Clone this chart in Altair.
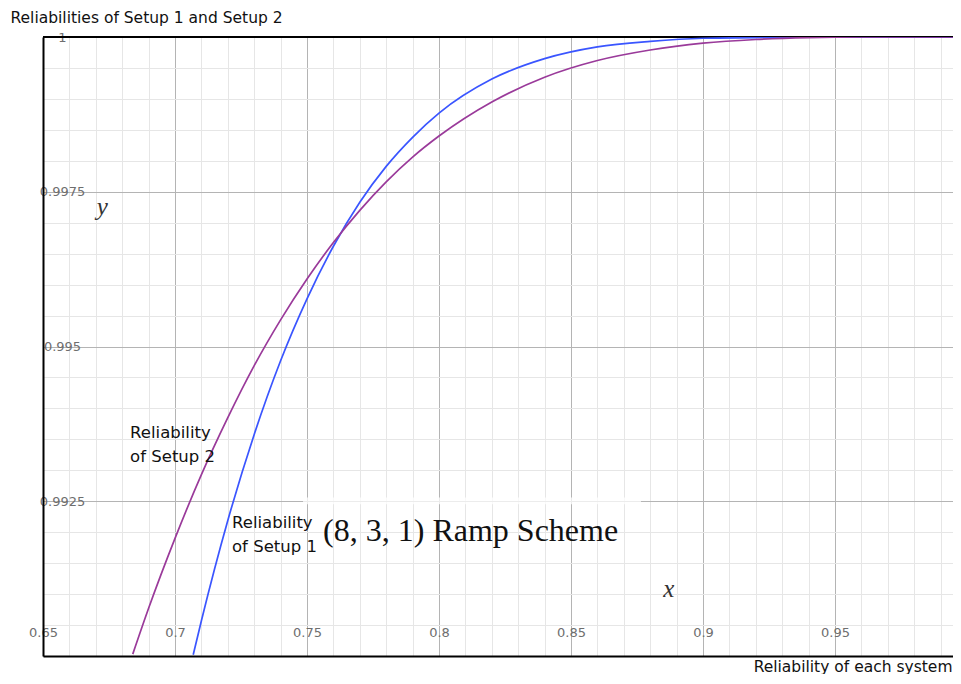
import altair as alt
import pandas as pd

# ---- data ----
setup1_x = [0.7069, 0.7100, 0.7200, 0.7300, 0.7400, 0.7500, 0.7600, 0.7700, 0.7800,
            0.7900, 0.8000, 0.8200, 0.8400, 0.8600, 0.8800, 0.9000, 0.9200, 0.9400,
            0.9600, 0.9800, 0.9947]
setup1_y = [0.99002, 0.99057, 0.99219, 0.99358, 0.99477, 0.99577, 0.99662, 0.99733, 0.99791,
            0.99838, 0.99877, 0.99932, 0.99965, 0.99984, 0.99993, 0.99998, 0.99999, 1.00000,
            1.00000, 1.00000, 1.00000]

setup2_x = [0.6840, 0.6900, 0.7000, 0.7100, 0.7200, 0.7300, 0.7400, 0.7500, 0.7600,
            0.7700, 0.7800, 0.7900, 0.8000, 0.8200, 0.8400, 0.8600, 0.8800, 0.9000,
            0.9200, 0.9400, 0.9600, 0.9800, 0.9947]
setup2_y = [0.99003, 0.99077, 0.99190, 0.99293, 0.99385, 0.99469, 0.99543, 0.99609, 0.99668,
            0.99720, 0.99766, 0.99806, 0.99840, 0.99895, 0.99935, 0.99962, 0.99979, 0.99990,
            0.99996, 0.99999, 1.00000, 1.00000, 1.00000]

series_names = ["Reliability of Setup 1", "Reliability of Setup 2"]
series_colors = ["#3a55ff", "#9a3a9a"]

x_ticks = [round(0.65 + 0.01 * i, 2) for i in range(35)]
y_ticks = [round(0.99 + 0.0005 * i, 4) for i in range(21)]

X_DOMAIN = [0.65, 0.99470]
Y_DOMAIN = [0.99, 1.0]
W, H = 910, 619

df = pd.concat([
    pd.DataFrame({"x": setup1_x, "y": setup1_y, "series": series_names[0]}),
    pd.DataFrame({"x": setup2_x, "y": setup2_y, "series": series_names[1]}),
])

x_major = "abs(datum.value*20 - round(datum.value*20)) < 0.000001"
y_major = "abs(datum.value*400 - round(datum.value*400)) < 0.000001"

FONT = "DejaVu Sans"

xaxis = alt.Axis(
    values=x_ticks,
    title="Reliability of each system",
    titleX=W - 1, titleY=10, titleAlign="right", titleBaseline="middle", titleAngle=0,
    titleFont=FONT, titleFontSize=15.5, titleFontWeight="normal", titleColor="#111111",
    labelExpr=f"{x_major} ? format(datum.value, '~g') : ''",
    labelFont=FONT, labelFontSize=13, labelColor="#6e6e6e",
    labelPadding=-24, labelBaseline="middle", labelAlign="center",
    labelFlush=False, labelOverlap=False, labelBound=False,
    ticks=False, tickSize=0,
    domain=True, domainColor="black", domainWidth=2,
    grid=True, gridWidth=1,
    gridColor={"condition": {"test": x_major, "value": "#b4b4b4"}, "value": "#e6e6e6"},
)

yaxis = alt.Axis(
    values=y_ticks,
    title="Reliabilities of Setup 1 and Setup 2",
    titleX=-33, titleY=-20, titleAlign="left", titleBaseline="middle", titleAngle=0,
    titleFont=FONT, titleFontSize=15.5, titleFontWeight="normal", titleColor="#111111",
    labelExpr=f"datum.value > 0.991 && {y_major} ? format(datum.value, '~g') : ''",
    labelFont=FONT, labelFontSize=13, labelColor="#6e6e6e",
    labelPadding=-19, labelAlign="center", labelBaseline="middle",
    labelFlush=False, labelOverlap=False, labelBound=False,
    ticks=False, tickSize=0,
    domain=True, domainColor="black", domainWidth=2,
    grid=True, gridWidth=1,
    gridColor={"condition": {"test": y_major, "value": "#b4b4b4"}, "value": "#e6e6e6"},
)

xscale = alt.Scale(domain=X_DOMAIN, nice=False, zero=False)
yscale = alt.Scale(domain=Y_DOMAIN, nice=False, zero=False)


def X(field):
    return alt.X(field, type="quantitative", scale=xscale, axis=xaxis)


def Y(field):
    return alt.Y(field, type="quantitative", scale=yscale, axis=yaxis)


# faint strip where the caption's backdrop lightens the 0.9925 grid line
box_df = pd.DataFrame({"x": [0.7485], "x2": [0.8765], "y": [0.99256], "y2": [0.99245]})
box = alt.Chart(box_df).mark_rect(color="white", opacity=0.75).encode(
    x=X("x"), x2="x2", y=Y("y"), y2="y2"
)

top_df = pd.DataFrame({"y": [1.0]})
top_rule = alt.Chart(top_df).mark_rule(color="black", strokeWidth=2).encode(y=Y("y"))

lines = alt.Chart(df).mark_line(strokeWidth=1.7, clip=True, interpolate="monotone").encode(
    x=X("x"),
    y=Y("y"),
    color=alt.Color("series:N", scale=alt.Scale(domain=series_names, range=series_colors), legend=None),
    detail="series:N",
)

lab_df = pd.DataFrame({
    "x": [0.6830, 0.7216],
    "y": [0.993516, 0.992065],
    "text": [["Reliability", "of Setup 2"], ["Reliability", "of Setup 1"]],
})
labels = alt.Chart(lab_df).mark_text(
    align="left", baseline="alphabetic", font=FONT, fontSize=16.5, lineHeight=24, color="#111111"
).encode(x=X("x"), y=Y("y"), text="text")

cap_df = pd.DataFrame({"x": [0.7561], "y": [0.99186], "text": ["(8, 3, 1) Ramp Scheme"]})
caption = alt.Chart(cap_df).mark_text(
    align="left", baseline="alphabetic", font="Liberation Serif", fontSize=32, color="#111111"
).encode(x=X("x"), y=Y("y"), text="text")

var_df = pd.DataFrame({"x": [0.6704, 0.8849], "y": [0.99712, 0.99095], "text": ["y", "x"]})
varlabels = alt.Chart(var_df).mark_text(
    align="left", baseline="alphabetic", font="Liberation Serif", fontStyle="italic",
    fontSize=25, color="#333333"
).encode(x=X("x"), y=Y("y"), text="text")

chart = alt.layer(box, top_rule, lines, labels, caption, varlabels).properties(
    width=W, height=H,
    autosize=alt.AutoSizeParams(type="none"),
    padding={"left": 35, "top": 29, "right": 0, "bottom": 18},
).configure_view(stroke=None).configure(background="white")

chart.save("out.html", embed_options={"renderer": "svg", "actions": False})
